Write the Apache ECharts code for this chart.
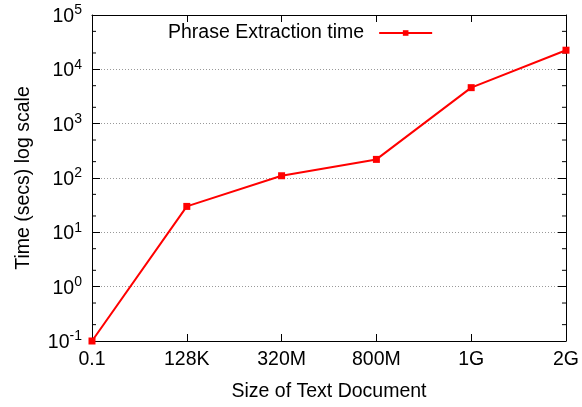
<!DOCTYPE html>
<html>
<head>
<meta charset="utf-8">
<script src="https://cdn.jsdelivr.net/npm/echarts@6/dist/echarts.min.js"></script>
<style>
  html, body { margin: 0; padding: 0; background: #fff; }
  #chart { width: 582px; height: 407px; }
</style>
</head>
<body>
<div id="chart"></div>
<script>
// Document sizes on the x axis
var categories = ['0.1', '128K', '320M', '800M', '1G', '2G'];
// Phrase extraction time in seconds
var extractionTimes = [0.1, 30, 110, 220, 4600, 22500];
// Minor tick values on the log axis (2 and 5 within each decade)
var minorTickValues = [0.2, 0.5, 2, 5, 20, 50, 200, 500, 2000, 5000, 20000, 50000];

var FONT = 'Liberation Sans, Arial, Helvetica, sans-serif';
var FS = 19.5;

function powerLabel(v) {
  var e = Math.round(Math.log10(v));
  return '{b|10}{s|' + e + '}';
}

var chart = echarts.init(document.getElementById('chart'), null, { renderer: 'canvas' });

var frameLine = { show: true, onZero: false, lineStyle: { color: '#000', width: 1 } };

chart.setOption({
  animation: false,
  backgroundColor: '#fff',
  textStyle: { fontFamily: FONT },
  grid: { left: 92, right: 16, top: 15, bottom: 64, containLabel: false },
  legend: {
    data: ['Phrase Extraction time'],
    left: 163,
    top: 18,
    align: 'right',
    itemWidth: 53,
    itemHeight: 7,
    textStyle: { fontSize: FS, color: '#000', fontFamily: FONT, padding: [0, 10, 0, 0] }
  },
  xAxis: [
    {
      type: 'category',
      data: categories,
      boundaryGap: false,
      position: 'bottom',
      name: 'Size of Text Document',
      nameLocation: 'middle',
      nameGap: 41,
      nameTextStyle: { fontSize: FS, color: '#000', fontFamily: FONT },
      axisLine: frameLine,
      axisTick: { show: true, inside: true, length: 7, lineStyle: { color: '#000' } },
      axisLabel: { fontSize: FS, color: '#000', margin: 9, fontFamily: FONT },
      splitLine: { show: false }
    },
    {
      type: 'category',
      data: categories,
      boundaryGap: false,
      position: 'top',
      axisLine: frameLine,
      axisTick: { show: true, inside: true, length: 7, lineStyle: { color: '#000' } },
      axisLabel: { show: false },
      splitLine: { show: false }
    }
  ],
  yAxis: [
    {
      type: 'log',
      logBase: 10,
      min: 0.1,
      max: 100000,
      interval: 1,
      position: 'left',
      name: 'Time (secs) log scale',
      nameLocation: 'middle',
      nameRotate: 90,
      nameGap: 58,
      nameTextStyle: { fontSize: FS, color: '#000', fontFamily: FONT },
      axisLine: frameLine,
      axisTick: { show: true, inside: true, length: 8, lineStyle: { color: '#000' } },
      axisLabel: {
        margin: 10,
        formatter: powerLabel,
        rich: {
          b: { fontSize: FS, color: '#000', fontFamily: FONT, verticalAlign: 'bottom' },
          s: { fontSize: 14, color: '#000', fontFamily: FONT, verticalAlign: 'bottom', padding: [0, 0, 9, 0] }
        }
      },
      splitLine: { show: true, lineStyle: { color: '#999', width: 1, type: [1, 2] } }
    },
    {
      type: 'log',
      logBase: 10,
      min: 0.1,
      max: 100000,
      interval: 1,
      position: 'right',
      axisLine: frameLine,
      axisTick: { show: true, inside: true, length: 8, lineStyle: { color: '#000' } },
      axisLabel: { show: false },
      splitLine: { show: false }
    }
  ],
  series: [
    {
      name: 'minor ticks',
      type: 'custom',
      silent: true,
      xAxisIndex: 0,
      yAxisIndex: 0,
      clip: false,
      data: minorTickValues.map(function (v) { return [0, v]; }),
      renderItem: function (params, api) {
        var v = api.value(1);
        var l = api.coord([0, v]);
        var r = api.coord([categories.length - 1, v]);
        var style = { stroke: '#000', lineWidth: 1 };
        return {
          type: 'group',
          children: [
            { type: 'line', shape: { x1: l[0], y1: l[1], x2: l[0] + 4, y2: l[1] }, style: style },
            { type: 'line', shape: { x1: r[0], y1: r[1], x2: r[0] - 4, y2: r[1] }, style: style }
          ]
        };
      }
    },
    {
      name: 'Phrase Extraction time',
      type: 'line',
      xAxisIndex: 0,
      yAxisIndex: 0,
      data: extractionTimes,
      symbol: 'rect',
      symbolSize: 7,
      showAllSymbol: true,
      clip: false,
      lineStyle: { color: '#ff0000', width: 2 },
      itemStyle: { color: '#ff0000' },
      z: 5
    }
  ]
});
</script>
</body>
</html>
